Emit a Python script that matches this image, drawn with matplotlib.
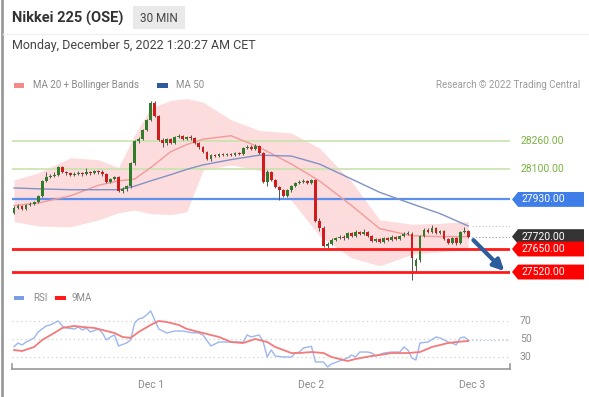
import matplotlib
matplotlib.use("Agg")
import numpy as np
import matplotlib.pyplot as plt
from matplotlib.patches import Polygon, FancyBboxPatch, Rectangle
from matplotlib.transforms import blended_transform_factory
from matplotlib.lines import Line2D

plt.rcParams['font.family'] = ['Roboto', 'DejaVu Sans']

# ---- data (30 min candles) ----
opens = [27855, 27880, 27895, 27875, 27900, 27905, 27915, 27950, 28035, 28055,
         28065, 28070, 28115, 28085, 28080, 28070, 28075, 28080, 28075, 28085,
         28080, 28090, 28085, 28075, 28030, 28045, 28055, 27980, 27990, 28005,
         28135, 28260, 28270, 28320, 28380, 28475, 28400, 28265, 28250, 28270,
         28250, 28285, 28290, 28270, 28285, 28275, 28250, 28225, 28200, 28160,
         28180, 28175, 28185, 28180, 28185, 28180, 28195, 28185, 28220, 28225,
         28215, 28230, 28195, 28030, 28085, 28040, 28000, 27985, 27950, 27985,
         28005, 28025, 28030, 28035, 28025, 28040, 27810, 27770, 27665, 27680,
         27700, 27710, 27720, 27710, 27740, 27725, 27745, 27735, 27745, 27725,
         27695, 27705, 27690, 27710, 27700, 27720, 27705, 27725, 27735, 27735,
         27555, 27590, 27725, 27755, 27745, 27770, 27740, 27750, 27705, 27685,
         27710, 27685, 27745, 27750]
closes = [27880, 27895, 27875, 27900, 27905, 27915, 27950, 28035, 28055, 28065,
          28070, 28115, 28085, 28080, 28070, 28075, 28080, 28075, 28085, 28080,
          28090, 28085, 28075, 28030, 28045, 28055, 27980, 27990, 28005, 28135,
          28260, 28270, 28320, 28380, 28475, 28400, 28265, 28250, 28270, 28250,
          28285, 28290, 28270, 28285, 28275, 28250, 28225, 28200, 28160, 28180,
          28175, 28185, 28180, 28185, 28180, 28195, 28185, 28220, 28225, 28215,
          28230, 28195, 28030, 28085, 28040, 28000, 27985, 27950, 27985, 28005,
          28025, 28030, 28035, 28025, 28040, 27810, 27770, 27665, 27680, 27700,
          27710, 27720, 27710, 27740, 27725, 27745, 27735, 27745, 27725, 27695,
          27705, 27690, 27710, 27700, 27720, 27705, 27725, 27735, 27740, 27600,
          27590, 27725, 27755, 27745, 27770, 27740, 27750, 27705, 27685, 27710,
          27685, 27745, 27750, 27720]
highs = [27895, 27905, 27900, 27905, 27915, 27920, 27955, 28040, 28085, 28075,
         28085, 28120, 28120, 28090, 28085, 28085, 28090, 28085, 28110, 28090,
         28095, 28095, 28095, 28080, 28050, 28065, 28065, 28000, 28010, 28140,
         28265, 28285, 28330, 28385, 28485, 28485, 28405, 28275, 28275, 28275,
         28290, 28300, 28295, 28290, 28295, 28285, 28255, 28230, 28205, 28185,
         28185, 28195, 28195, 28195, 28195, 28200, 28200, 28225, 28240, 28240,
         28245, 28240, 28200, 28095, 28090, 28045, 28005, 27990, 27990, 28010,
         28030, 28040, 28045, 28040, 28045, 28045, 27825, 27780, 27690, 27710,
         27720, 27730, 27730, 27745, 27745, 27755, 27750, 27765, 27750, 27730,
         27710, 27710, 27720, 27720, 27730, 27725, 27730, 27745, 27750, 27745,
         27600, 27730, 27770, 27770, 27785, 27775, 27755, 27755, 27710, 27720,
         27720, 27750, 27775, 27755]
lows = [27850, 27875, 27870, 27870, 27895, 27900, 27910, 27945, 28030, 28050,
        28055, 28065, 28080, 28070, 28065, 28065, 28070, 28065, 28070, 28070,
        28075, 28075, 28065, 28025, 28025, 28040, 27970, 27965, 27980, 27995,
        28125, 28250, 28265, 28315, 28375, 28395, 28260, 28225, 28240, 28245,
        28245, 28275, 28265, 28265, 28265, 28245, 28215, 28195, 28155, 28145,
        28170, 28170, 28175, 28175, 28175, 28175, 28180, 28180, 28215, 28210,
        28210, 28185, 28025, 28005, 28035, 27995, 27925, 27945, 27945, 27970,
        28000, 28015, 28025, 28015, 28015, 27805, 27750, 27660, 27655, 27675,
        27695, 27705, 27700, 27705, 27720, 27720, 27730, 27730, 27720, 27690,
        27690, 27685, 27685, 27695, 27695, 27700, 27700, 27720, 27730, 27475,
        27515, 27575, 27720, 27740, 27740, 27735, 27735, 27700, 27680, 27680,
        27675, 27680, 27740, 27710]

band_idx = [0, 6, 14, 21, 26, 30, 34, 39, 43, 47, 54, 61, 69, 76, 84, 91, 99, 106, 113]
ma20 = [27895, 27910, 27950, 28010, 28035, 28045, 28110, 28200, 28240, 28270,
        28290, 28225, 28130, 28035, 27895, 27765, 27725, 27720, 27720]
ma50 = [27995, 27990, 27985, 27985, 27985, 28005, 28035, 28070, 28100, 28125,
        28155, 28180, 28175, 28130, 28045, 27970, 27905, 27850, 27780]
bb_upper = [28040, 28080, 28165, 28155, 28110, 28295, 28445, 28490, 28500, 28480,
            28380, 28320, 28305, 28220, 28030, 27815, 27790, 27795, 27805]
bb_lower = [27805, 27780, 27775, 27815, 27855, 27870, 27850, 27845, 27860, 28095,
            28125, 28095, 27925, 27725, 27600, 27555, 27620, 27635, 27645]

rsi_idx = [0, 1, 2, 3, 5, 6, 8, 9, 11, 12, 13, 15, 16, 17, 18, 19, 21, 22, 23, 24,
           25, 26, 28, 29, 30, 31, 32, 33, 34, 35, 36, 38, 40, 42, 44, 46, 47, 49,
           51, 52, 55, 57, 58, 59, 61, 62, 63, 64, 65, 67, 69, 70, 71, 72, 74, 75,
           77, 78, 79, 81, 83, 84, 85, 86, 88, 89, 90, 92, 94, 96, 97, 98, 99, 100,
           101, 103, 105, 106, 108, 109, 110, 111, 112, 113]
rsi = [41.6, 45.6, 43.5, 46.7, 51.1, 57.6, 64.2, 65.3, 69.6, 64.2, 62.0, 60.9, 63.1,
       59.8, 62.0, 57.6, 60.9, 56.5, 48.9, 52.2, 54.4, 42.4, 45.6, 48.9, 67.4, 71.8,
       72.9, 76.2, 80.5, 70.7, 60.9, 56.5, 58.7, 58.7, 57.0, 56.5, 54.4, 42.4, 46.7,
       46.7, 46.7, 46.7, 54.4, 52.2, 54.4, 46.7, 30.4, 38.0, 31.5, 30.4, 30.4, 34.7,
       35.8, 40.2, 42.0, 25.0, 24.9, 19.5, 22.8, 26.0, 29.3, 32.6, 30.4, 35.8, 35.8,
       34.7, 31.5, 34.7, 35.8, 35.8, 41.3, 38.0, 29.3, 27.1, 45.6, 46.7, 52.2, 51.1,
       46.7, 45.6, 43.5, 51.1, 52.2, 48.9]
ma9_idx = [0, 2, 5, 7, 10, 12, 15, 17, 20, 22, 25, 27, 29, 31, 34, 36, 38, 41, 43,
           46, 51, 54, 57, 60, 63, 65, 69, 71, 74, 77, 79, 83, 85, 89, 91, 94, 98,
           101, 104, 108, 110, 113]
ma9 = [38.0, 36.9, 41.3, 48.9, 56.5, 62.0, 64.2, 63.1, 62.0, 59.8, 56.5, 52.2, 51.1,
       57.6, 65.3, 69.6, 68.5, 65.3, 60.9, 57.6, 52.2, 46.7, 45.6, 50.0, 46.7, 41.3,
       34.7, 34.7, 35.8, 34.7, 30.4, 26.0, 28.2, 31.5, 32.6, 34.7, 34.7, 35.8, 41.3,
       45.6, 46.7, 47.8]

green_levels = [28260, 28100]
blue_level = 27930
red_levels = [27650, 27520]
target = 27520
day_pos = [34, 74, 114]
day_labels = ['Dec 1', 'Dec 2', 'Dec 3']
rsi_levels = [70, 50, 30]

W, H = 589, 397


def fx(px):
    return px / W


def fy(py):
    return 1 - py / H


fig = plt.figure(figsize=(W / 100, H / 100), dpi=100)
fig.patch.set_facecolor('white')

# ---- header ----
fig.add_artist(Line2D([fx(1.5), fx(1.5)], [0, 1], color='#9a9a9a', lw=2))
fig.add_artist(Line2D([fx(3), 1], [fy(34), fy(34)], color='#f0f0f0', lw=1))
fig.text(fx(12), fy(18), 'Nikkei 225 (OSE)', fontsize=10.5, fontweight='bold',
         color='#333333', va='center')
fig.add_artist(FancyBboxPatch((fx(133), fy(29)), fx(52), fy(6) - fy(29),
                              boxstyle='square,pad=0', fc='#e9e9e9', ec='none'))
fig.text(fx(159), fy(18), '30 MIN', fontsize=8.5, color='#444444',
         ha='center', va='center')
fig.text(fx(12), fy(46), 'Monday, December 5, 2022 1:20:27 AM CET', fontsize=9,
         color='#444444', va='center')

# legends
fig.add_artist(Rectangle((fx(14), fy(88)), fx(10), fy(83) - fy(88), fc='#f48a8a', ec='none'))
fig.text(fx(33), fy(85), 'MA 20 + Bollinger Bands', fontsize=7, color='#8a8a8a', va='center')
fig.add_artist(Rectangle((fx(157), fy(88)), fx(11), fy(83) - fy(88), fc='#2f5a9e', ec='none'))
fig.text(fx(176), fy(85), 'MA 50', fontsize=7, color='#8a8a8a', va='center')
fig.text(fx(580), fy(85), 'Research \u00a9 2022 Trading Central', fontsize=7,
         color='#9a9a9a', va='center', ha='right')

# ---- main price panel ----
ax = fig.add_axes([fx(12), fy(283), fx(510) - fx(12), fy(95) - fy(283)])
ax.set_xlim(-0.5, 123.4)
ax.set_ylim(27458, 28520)
ax.axis('off')

ax.fill_between(band_idx, bb_lower, bb_upper, color='#fcdcdc', lw=0, zorder=1)
ax.plot(band_idx, ma20, color='#f39a9a', lw=1, zorder=2)
ax.plot(band_idx, ma50, color='#8092c6', lw=1, zorder=2)

for lv in green_levels:
    ax.axhline(lv, color='#c8e3ac', lw=1.2, zorder=1.5)
ax.axhline(blue_level, color='#5b8ff0', lw=1.6, zorder=1.5)
for lv in red_levels:
    ax.axhline(lv, color='#ff1a1a', lw=2, zorder=5)
ax.axhline(27458, color='#e0e0e0', lw=0.8, ls=(0, (1, 2)), zorder=1)

o = np.array(opens, dtype=float)
c = np.array(closes, dtype=float)
hi = np.array(highs, dtype=float)
lo = np.array(lows, dtype=float)
x = np.arange(len(c))
cols = np.where(c >= o, '#2f7d2a', '#d01c1c')
ax.vlines(x, lo, hi, colors='#555555', lw=0.7, zorder=3)
body = np.maximum(np.abs(c - o), 3)
ax.bar(x, body, bottom=np.minimum(o, c), width=0.7, color=cols, zorder=4, lw=0)

last_x = x[-1]
ax.plot([last_x + 1, 123.4], [closes[-1], closes[-1]], color='#9a9a9a', lw=0.8,
        ls=(0, (1, 2)), zorder=2)
ax.plot([last_x + 1, 123.4], [ma50[-1], ma50[-1]], color='#b8c0d8', lw=0.8,
        ls=(0, (1, 2)), zorder=2)

ax.annotate('', xy=(last_x + 9.0, target + 5), xytext=(last_x + 1.3, closes[-1] - 20),
            arrowprops=dict(arrowstyle='-|>', color='#2c5d9c', lw=3,
                            mutation_scale=16, shrinkA=0, shrinkB=0),
            zorder=6, annotation_clip=False)

# price labels on the right
tr = blended_transform_factory(fig.transFigure, ax.transData)
for lv in green_levels:
    ax.text(fx(521), lv, f'{lv:.2f}', transform=tr, fontsize=7.5, color='#7cb342',
            va='center', ha='left')
hh = 42
boxes = [(blue_level, '#3f7ee8'), (closes[-1], '#333333'),
         (red_levels[0], '#ff0000'), (red_levels[1], '#ff0000')]
for lv, col in boxes:
    poly = Polygon([[fx(512), lv], [fx(518), lv + hh], [fx(584), lv + hh],
                    [fx(584), lv - hh], [fx(518), lv - hh]], closed=True,
                   transform=tr, fc=col, ec='none', clip_on=False, zorder=7)
    ax.add_patch(poly)
    ax.text(fx(522), lv, f'{lv:.2f}', transform=tr, fontsize=7.5, color='white',
            va='center', ha='left', zorder=8)

# ---- RSI panel ----
fig.add_artist(Rectangle((fx(14), fy(300)), fx(10), fy(296) - fy(300), fc='#7a9de6', ec='none'))
fig.text(fx(33), fy(298), 'RSI', fontsize=7, color='#8a8a8a', va='center')
fig.add_artist(Rectangle((fx(55), fy(300)), fx(11), fy(296) - fy(300), fc='#ff1a1a', ec='none'))
fig.text(fx(72), fy(298), '9MA', fontsize=7, color='#8a8a8a', va='center')

ax2 = fig.add_axes([fx(12), fy(369), fx(510) - fx(12), fy(303) - fy(369)])
ax2.set_xlim(-0.5, 123.4)
ax2.set_ylim(17.3, 89.2)
for s in ['top', 'left', 'right']:
    ax2.spines[s].set_visible(False)
ax2.spines['bottom'].set_color('#9a9a9a')
ax2.spines['bottom'].set_linewidth(1.2)
ax2.set_yticks([])
ax2.set_xticks(day_pos)
ax2.set_xticklabels(day_labels, fontsize=7.5, color='#8a8a8a')
ax2.tick_params(axis='x', length=0, pad=8)
ax2.patch.set_alpha(0)
for xe in [0, 1]:
    ax2.plot([xe, xe], [0, 0.07], transform=ax2.transAxes, color='#9a9a9a',
             lw=1.2, clip_on=False)

for lv in rsi_levels:
    ax2.axhline(lv, color='#d0d0d0', lw=0.9, ls=(0, (1, 2.5)), zorder=1)
tr2 = blended_transform_factory(fig.transFigure, ax2.transData)
for lv in rsi_levels:
    ax2.text(fx(520), lv, str(lv), transform=tr2, fontsize=7.5, color='#8a8a8a',
             va='center', ha='left')

ax2.plot(rsi_idx, rsi, color='#9db6ef', lw=1, zorder=3)
ax2.plot(ma9_idx, ma9, color='#f47a7a', lw=1.3, zorder=4)
ax2.plot([last_x, 123.4], [rsi[-1], rsi[-1]], color='#b7c8f0', lw=0.9,
         ls=(0, (1, 2)), zorder=2)

fig.savefig('out.png', dpi=100, facecolor='white')
